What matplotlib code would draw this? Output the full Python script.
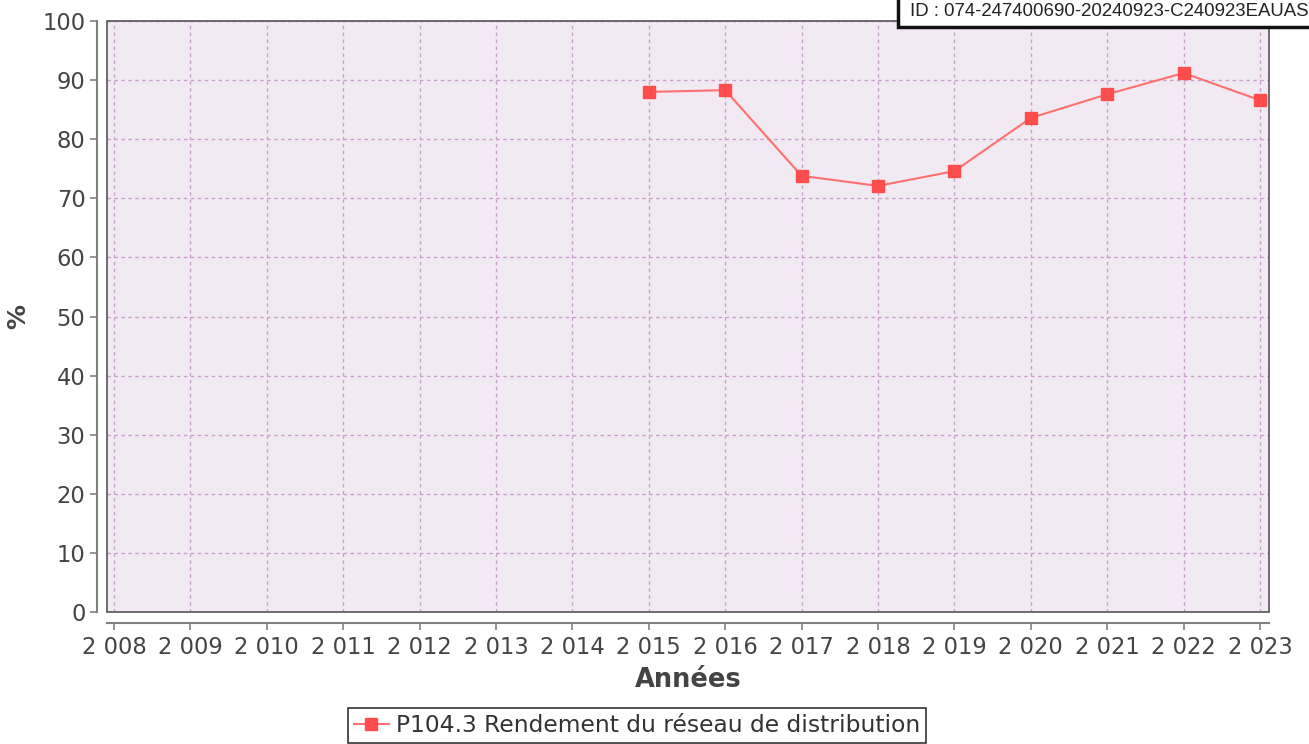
import matplotlib
matplotlib.use("Agg")
import matplotlib.pyplot as plt
from matplotlib.patches import Rectangle
from matplotlib.ticker import FuncFormatter

# donnees
annees = [2015, 2016, 2017, 2018, 2019, 2020, 2021, 2022, 2023]
rendement = [88.0, 88.3, 73.8, 72.1, 74.6, 83.6, 87.6, 91.2, 86.6]
ticks_x = list(range(2008, 2024))
ticks_y = list(range(0, 101, 10))
serie_label = "P104.3 Rendement du réseau de distribution"
id_text = "ID : 074-247400690-20240923-C240923EAUAS"

W, H = 1309, 744
fig = plt.figure(figsize=(W / 100, H / 100), dpi=100)
ax = fig.add_axes([107 / W, 132 / H, 1162 / W, 591 / H])
ax.set_facecolor("#f2eaf2")

ax.plot(annees, rendement, color="#ff7070", lw=1.5, marker="s", ms=9,
        mfc="#ff4d4d", mec="#ff4d4d", label=serie_label, zorder=3)

ax.set_xlim(2008 - 7 / 76.4, 2023 + 9 / 76.4)
ax.set_ylim(0, 100)
ax.set_xticks(ticks_x)
ax.set_yticks(ticks_y)
ax.xaxis.set_major_formatter(FuncFormatter(lambda v, p: f"{int(v):,}".replace(",", " ")))

ax.grid(True, color="#c8a0cc", ls=(0, (2.5, 2.5)), lw=1)
ax.set_axisbelow(True)

# spines decales comme dans le graphique d'origine
for s in ["top", "right"]:
    ax.spines[s].set_visible(False)
ax.spines["left"].set_position(("outward", 7))
ax.spines["bottom"].set_position(("outward", 8))
for s in ["left", "bottom"]:
    ax.spines[s].set_color("#808080")
    ax.spines[s].set_linewidth(1.5)
ax.add_patch(Rectangle((0, 0), 1, 1, transform=ax.transAxes, fill=False,
                       ec="#555555", lw=1.2, zorder=4, clip_on=False))

ax.tick_params(colors="#808080", labelcolor="#444444", labelsize=16.3,
               length=5, width=1.2)
ax.tick_params(axis="x", pad=4)
ax.set_xlabel("Années", fontsize=18.5, fontweight="bold", color="#444444", labelpad=6)
fig.text(18 / W, 1 - 316 / H, "%", rotation=90, fontsize=18, fontweight="bold",
         color="#444444", ha="center", va="center")

leg = fig.legend(loc="upper center", bbox_to_anchor=(637 / W, 1 - 708 / H), frameon=True,
                 fancybox=False, fontsize=16.8, handlelength=1.5, borderpad=0.25,
                 handletextpad=0.3, borderaxespad=0)
leg.get_frame().set_edgecolor("#000000")
leg.get_frame().set_linewidth(1.2)
for t in leg.get_texts():
    t.set_color("#333333")

# cartouche ID en haut a droite
fig.patches.append(Rectangle((898 / W, 1 - 27 / H), 0.5, 0.1, transform=fig.transFigure,
                             fc="white", ec="#111111", lw=2.5, zorder=5))
fig.text(910 / W, 1 - 12 / H, id_text, fontsize=13.4, family="Liberation Sans",
         va="center", ha="left", color="#222222", zorder=6)

fig.savefig("out.png", dpi=100)
